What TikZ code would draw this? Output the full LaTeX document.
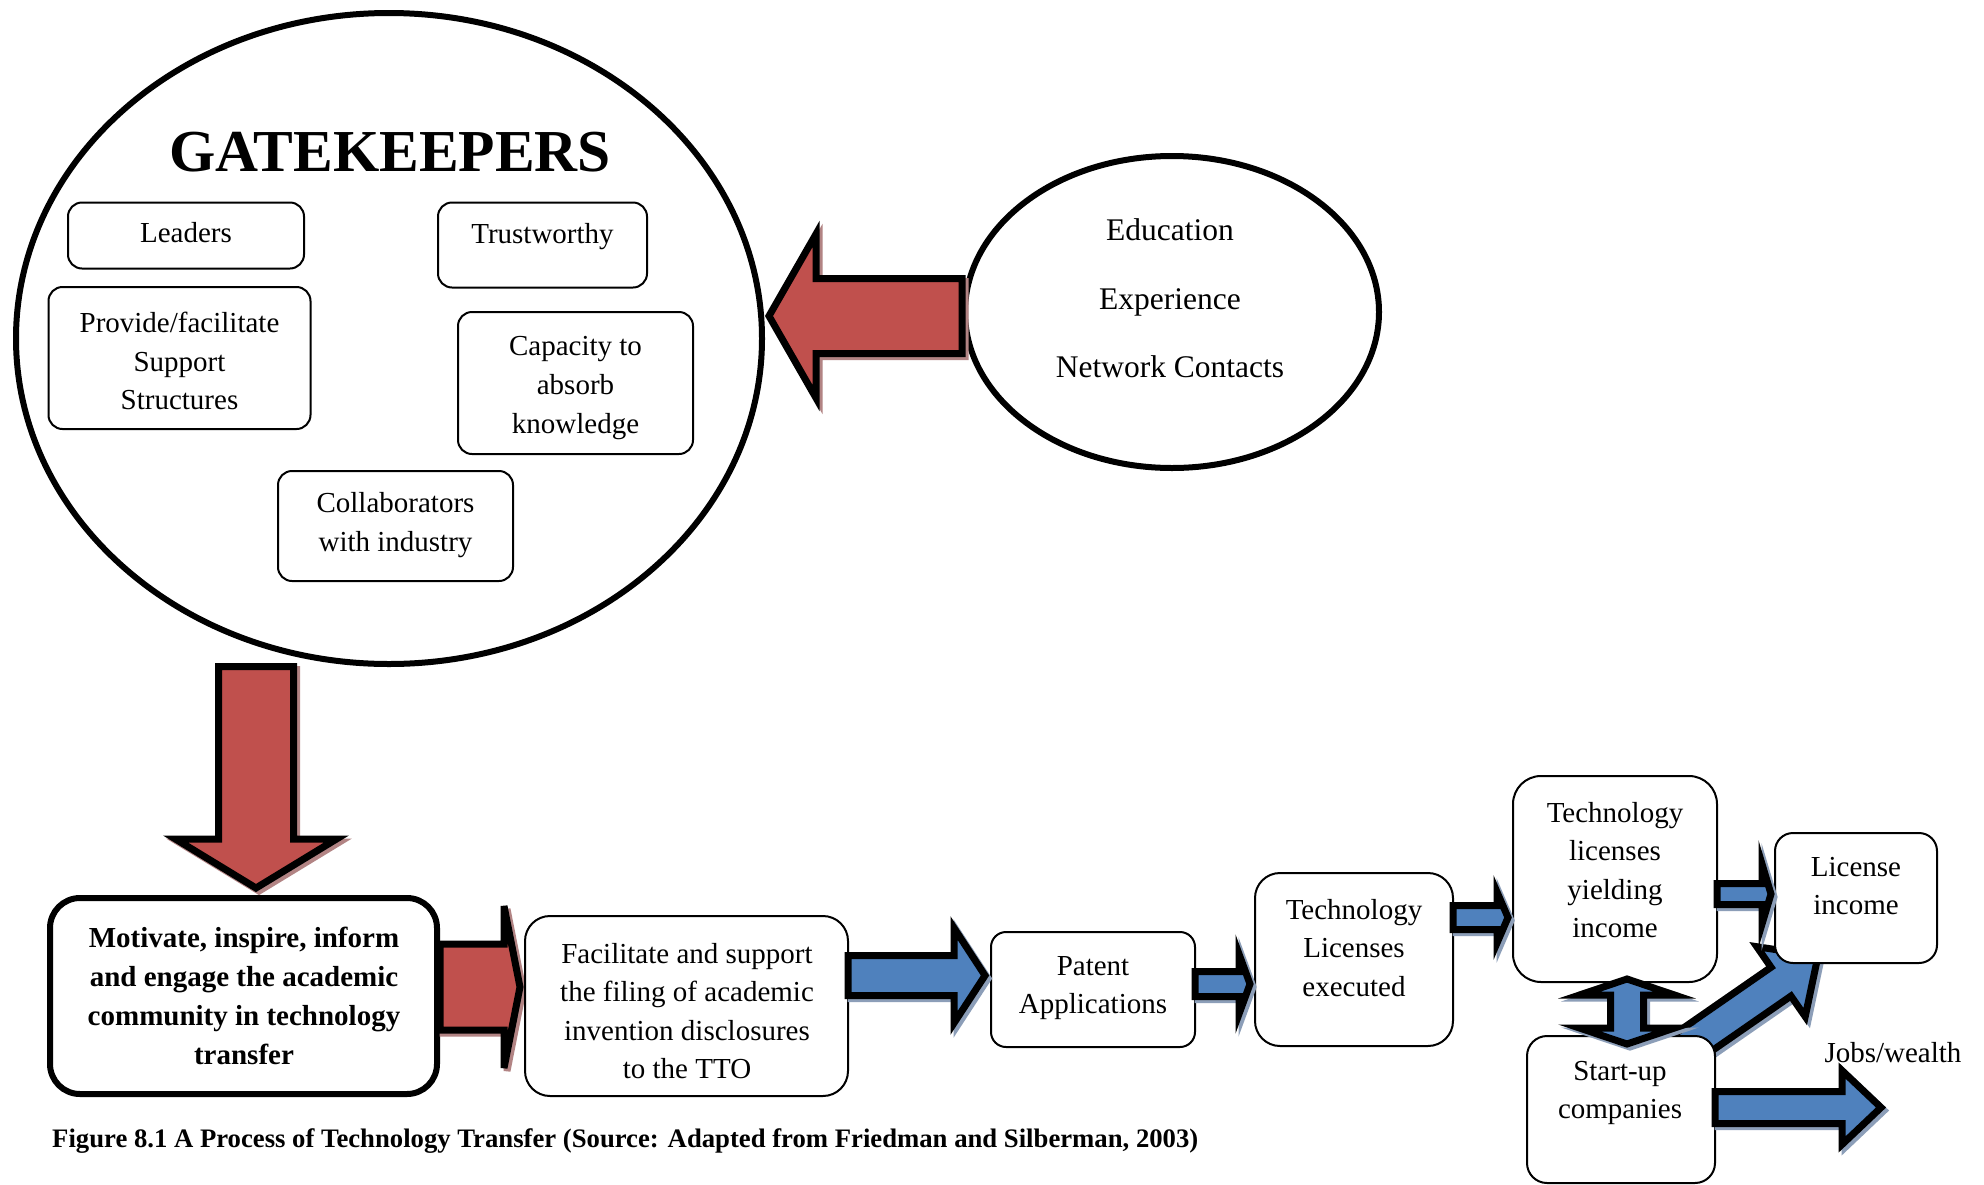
\documentclass[tikz,border=0pt]{standalone}
\usepackage{fontspec}
\setmainfont{Liberation Serif}
\usetikzlibrary{shapes.geometric,calc}

\definecolor{arrowred}{HTML}{C0504D}
\definecolor{redshade}{RGB}{178,132,132}
\definecolor{arrowblue}{HTML}{4F81BD}
\definecolor{blueshade}{RGB}{140,158,184}

% outline of a single block arrow of length #1 along the local x axis
\newcommand\arrowpath[4]{(0,-#2) -- ({#1-#4},-#2) -- ({#1-#4},-#3) -- (#1,0)
  -- ({#1-#4},#3) -- ({#1-#4},#2) -- (0,#2) -- cycle}
% outline of a double-headed block arrow
\newcommand\dblarrowpath[4]{(0,0) -- (#4,-#3) -- (#4,-#2) -- ({#1-#4},-#2) -- ({#1-#4},-#3)
  -- (#1,0) -- ({#1-#4},#3) -- ({#1-#4},#2) -- (#4,#2) -- (#4,#3) -- cycle}

% #1 tail, #2 tip, #3 shaft half width, #4 head half width, #5 head length,
% #6 fill colour, #7 shadow colour, #8 path macro
\newcommand\blockarrowgen[8]{%
  \pgfpointdiff{\pgfpointanchor{#1}{center}}{\pgfpointanchor{#2}{center}}%
  \pgfgetlastxy{\bax}{\bay}%
  \pgfmathsetmacro\balen{veclen(\bax,\bay)}%
  \pgfmathsetmacro\baang{atan2(\bay,\bax)}%
  \begin{scope}[shift={(#1)},shift={(3,3)},rotate=\baang]
    \filldraw[draw=#7,fill=#7,line width=7pt] #8{\balen}{#3}{#4}{#5};
  \end{scope}
  \begin{scope}[shift={(#1)},rotate=\baang]
    \filldraw[draw=black,fill=#6,line width=7pt] #8{\balen}{#3}{#4}{#5};
  \end{scope}}
\newcommand\blockarrow[7]{\blockarrowgen{#1}{#2}{#3}{#4}{#5}{#6}{#7}{\arrowpath}}
\newcommand\dblblockarrow[7]{\blockarrowgen{#1}{#2}{#3}{#4}{#5}{#6}{#7}{\dblarrowpath}}

\begin{document}
\begin{tikzpicture}[x=1pt,y=-1pt,
  gkbox/.style={draw, line width=2pt, rounded corners=14pt, fill=white, inner sep=0pt},
  flowbox/.style={draw, line width=2pt, fill=white, inner sep=0pt},
  bodytext/.style={align=center, inner sep=0pt, font=\fontsize{29}{38.6}\selectfont},
  bigoval/.style={draw, ellipse, line width=6pt, inner sep=0pt, fill=white}]

\fill[white] (0,0) rectangle (1984,1184);
\useasboundingbox (0,0) rectangle (1984,1184);

% ---------------- gatekeepers circle ----------------
\node[bigoval, minimum width=746pt, minimum height=651pt] (gate) at (389,338.5) {};
\node[inner sep=0pt, font=\bfseries\fontsize{59.5}{62}\selectfont] (gatetitle) at (390,152) {GATEKEEPERS};

\node[gkbox, minimum width=236pt, minimum height=66pt] (leaders) at (186,235.5) {};
\node[bodytext] (leaderstxt) at (186,233) {Leaders};

\node[gkbox, minimum width=209pt, minimum height=85pt] (trust) at (542.5,245) {};
\node[bodytext] (trusttxt) at (542.5,237) {Trustworthy};

\node[gkbox, minimum width=262pt, minimum height=142pt] (support) at (179.5,358) {};
\node[bodytext] (supporttxt) at (179.5,361) {Provide/facilitate\\Support\\Structures};

\node[gkbox, minimum width=235pt, minimum height=142pt] (absorb) at (575.5,383) {};
\node[bodytext] (absorbtxt) at (575.5,388) {Capacity to\\absorb\\knowledge};

\node[gkbox, minimum width=235pt, minimum height=110pt] (collab) at (395.5,526) {};
\node[bodytext] (collabtxt) at (395.5,525) {Collaborators\\with industry};

% ---------------- background ellipse ----------------
\node[bigoval, minimum width=414pt, minimum height=312pt] (bg) at (1172,312) {};
\node[align=center, inner sep=0pt, font=\fontsize{31.5}{68.5}\selectfont] (bgtxt) at (1170,298.5)
  {Education\\Experience\\Network Contacts};

\coordinate (r1tail) at (962,316);
\coordinate (r1tip) at (769,316);
\blockarrow{r1tail}{r1tip}{37.5}{82}{47}{arrowred}{redshade}

% ---------------- motivate box and red arrows ----------------
\coordinate (r2tail) at (256,666.5);
\coordinate (r2tip) at (256,888);
\blockarrow{r2tail}{r2tip}{37.5}{80.5}{49}{arrowred}{redshade}

\node[draw, line width=6pt, rounded corners=30pt, fill=white, inner sep=0pt,
  minimum width=387pt, minimum height=196pt] (motivate) at (243.5,996) {};
\node[align=center, inner sep=0pt, font=\bfseries\fontsize{29}{39}\selectfont] (motivatetxt) at (244,995.5)
  {Motivate, inspire, inform\\and engage the academic\\community in technology\\transfer};

\coordinate (r3tail) at (440,987);
\coordinate (r3tip) at (520,987);
\blockarrow{r3tail}{r3tip}{43}{81}{16}{arrowred}{redshade}

% ---------------- process chain ----------------
\node[flowbox, rounded corners=25pt, minimum width=323pt, minimum height=180pt] (file) at (686.5,1006) {};
\node[bodytext] (filetxt) at (687,1011)
  {Facilitate and support\\the filing of academic\\invention disclosures\\to the TTO};

\node[flowbox, rounded corners=15pt, minimum width=204pt, minimum height=115pt] (patent) at (1093,989.5) {};
\node[bodytext] (patenttxt) at (1093,988) {Patent\\Applications};

\node[flowbox, rounded corners=25pt, minimum width=198pt, minimum height=173pt] (licexec) at (1354,959.5) {};
\node[bodytext] (licexectxt) at (1354,948) {Technology\\Licenses\\executed};

\node[flowbox, rounded corners=28pt, minimum width=204pt, minimum height=206pt] (licyield) at (1615,879) {};
\node[bodytext] (licyieldtxt) at (1615,870) {Technology\\licenses\\yielding\\income};

\coordinate (b5tail) at (1665,1062);
\coordinate (b5tip) at (1818,956);
\blockarrow{b5tail}{b5tip}{17.5}{42.5}{45}{arrowblue}{blueshade}

\node[flowbox, rounded corners=18pt, minimum width=162pt, minimum height=130pt] (licinc) at (1856,898) {};
\node[bodytext] (licinctxt) at (1856,886) {License\\income};

\node[flowbox, rounded corners=20pt, minimum width=188pt, minimum height=147pt] (startup) at (1621,1109.5) {};
\node[bodytext] (startuptxt) at (1620,1093) {Start-up\\companies};

\coordinate (b1tail) at (848,975.5);
\coordinate (b1tip) at (985,975.5);
\blockarrow{b1tail}{b1tip}{20}{47.5}{31}{arrowblue}{blueshade}

\coordinate (b2tail) at (1195,984);
\coordinate (b2tip) at (1250,984);
\blockarrow{b2tail}{b2tip}{12.5}{30}{11}{arrowblue}{blueshade}

\coordinate (b3tail) at (1453,917.5);
\coordinate (b3tip) at (1508,917.5);
\blockarrow{b3tail}{b3tip}{12}{25.5}{11}{arrowblue}{blueshade}

\coordinate (b4tail) at (1717,894);
\coordinate (b4tip) at (1771,894);
\blockarrow{b4tail}{b4tip}{10.5}{30}{9}{arrowblue}{blueshade}

\coordinate (b6tail) at (1715,1107.5);
\coordinate (b6tip) at (1881,1107.5);
\blockarrow{b6tail}{b6tip}{16}{37}{39}{arrowblue}{blueshade}

\coordinate (d1) at (1627,979);
\coordinate (d2) at (1627,1044);
\dblblockarrow{d1}{d2}{16.5}{47.5}{16}{arrowblue}{blueshade}

\node[bodytext] (jobs) at (1893,1053) {Jobs/wealth};

% ---------------- caption ----------------
\node[anchor=west, inner sep=0pt, font=\bfseries\fontsize{26.7}{30}\selectfont] (caption) at (52,1141)
  {Figure 8.1 A Process of Technology Transfer (Source: Adapted from Friedman and Silberman, 2003)};

\end{tikzpicture}
\end{document}
